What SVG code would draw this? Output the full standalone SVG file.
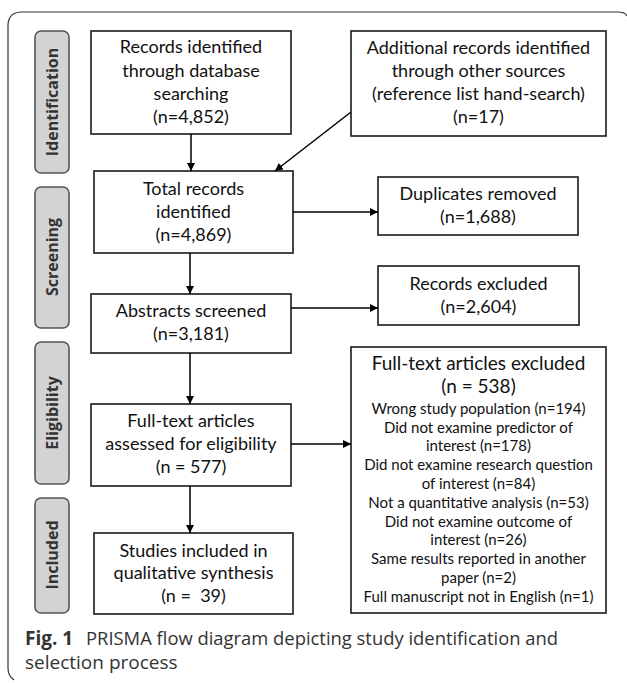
<svg xmlns="http://www.w3.org/2000/svg" width="627" height="683" viewBox="0 0 627 683">
<defs>
<marker id="ah" viewBox="0 0 10 10" refX="10" refY="5" markerWidth="8" markerHeight="8" markerUnits="userSpaceOnUse" orient="auto">
<path d="M0,0 L10,5 L0,10 z" fill="#000"/>
</marker>
<style>
.box{fill:#fff;stroke:#1a1a1a;stroke-width:1.6}
.side{fill:#d3d3d3;stroke:#555;stroke-width:1.6}
.t{font-family:Lato,"Liberation Sans",sans-serif;font-size:18px;fill:#111;text-anchor:middle}
.s{font-family:Lato,"Liberation Sans",sans-serif;font-size:15px;fill:#111;text-anchor:middle}
.lab{font-family:"Open Sans","Noto Sans",sans-serif;font-size:16px;font-weight:bold;fill:#333;text-anchor:middle}
.cap{font-family:"Open Sans","Noto Sans",sans-serif;font-size:19px;fill:#333}
.c{fill:none;stroke:#000;stroke-width:1.5}
</style>
</defs>
<rect width="627" height="683" fill="#fff"/>
<path d="M14,680 Q8,676 8,668 V26 Q8,12 22,12 H618 Q625,12 627,16" fill="none" stroke="#333" stroke-width="1.2"/>

<g id="label-identification"><rect class="side" x="35" y="31" width="34" height="142" rx="6"/><text class="lab" transform="translate(58,102) rotate(-90)">Identification</text></g>
<g id="label-screening"><rect class="side" x="35" y="187" width="34" height="141" rx="6"/><text class="lab" transform="translate(58,257) rotate(-90)">Screening</text></g>
<g id="label-eligibility"><rect class="side" x="35" y="342" width="34" height="142" rx="6"/><text class="lab" transform="translate(58,413) rotate(-90)">Eligibility</text></g>
<g id="label-included"><rect class="side" x="35" y="498" width="34" height="115" rx="6"/><text class="lab" transform="translate(58,555) rotate(-90)">Included</text></g>

<g id="n-database"><rect class="box" x="91" y="31" width="200" height="103"/>
<text class="t" x="191" y="53">Records identified</text><text class="t" x="191" y="77">through database</text><text class="t" x="191" y="100">searching</text><text class="t" x="191" y="123">(n=4,852)</text></g>
<g id="n-other"><rect class="box" x="351" y="31" width="255" height="105"/>
<text class="t" x="478.5" y="54">Additional records identified</text><text class="t" x="478.5" y="77">through other sources</text><text class="t" x="478.5" y="100">(reference  list hand-search)</text><text class="t" x="478.5" y="123">(n=17)</text></g>
<g id="n-total"><rect class="box" x="94" y="171" width="199" height="82"/>
<text class="t" x="193.5" y="195">Total records</text><text class="t" x="193.5" y="218">identified</text><text class="t" x="193.5" y="241">(n=4,869)</text></g>
<g id="n-dup"><rect class="box" x="378" y="177" width="200" height="58"/>
<text class="t" x="478" y="200">Duplicates removed</text><text class="t" x="478" y="223">(n=1,688)</text></g>
<g id="n-abstracts"><rect class="box" x="91" y="294" width="200" height="59"/>
<text class="t" x="191" y="317">Abstracts screened</text><text class="t" x="191" y="340">(n=3,181)</text></g>
<g id="n-recexcl"><rect class="box" x="378" y="266" width="201" height="59"/>
<text class="t" x="478.5" y="290">Records excluded</text><text class="t" x="478.5" y="313">(n=2,604)</text></g>
<g id="n-fulltext"><rect class="box" x="91" y="404" width="200" height="82"/>
<text class="t" x="191" y="427">Full-text articles</text><text class="t" x="191" y="450">assessed for eligibility</text><text class="t" x="191" y="473">(n = 577)</text></g>
<g id="n-included"><rect class="box" x="94" y="533" width="199" height="81"/>
<text class="t" x="193.5" y="557">Studies included in</text><text class="t" x="193.5" y="579">qualitative synthesis</text><text class="t" x="193.5" y="602" xml:space="preserve">(n =  39)</text></g>
<g id="n-ftexcl"><rect class="box" x="351" y="347" width="255" height="266"/>
<text class="t" x="478.5" y="370" style="font-size:19px">Full-text articles excluded</text>
<text class="t" x="478.5" y="393" style="font-size:19px">(n = 538)</text>
<text class="s" x="478.5" y="414">Wrong study population (n=194)</text>
<text class="s" x="478.5" y="433">Did not examine predictor of</text>
<text class="s" x="478.5" y="451">interest (n=178)</text>
<text class="s" x="478.5" y="470">Did not examine research question</text>
<text class="s" x="478.5" y="489">of interest (n=84)</text>
<text class="s" x="478.5" y="508">Not a quantitative analysis (n=53)</text>
<text class="s" x="478.5" y="527">Did not examine outcome of</text>
<text class="s" x="478.5" y="545">interest (n=26)</text>
<text class="s" x="478.5" y="564">Same results reported in another</text>
<text class="s" x="478.5" y="583">paper (n=2)</text>
<text class="s" x="478.5" y="602">Full manuscript not in English (n=1)</text></g>

<g id="connectors">
<line class="c" x1="191" y1="134" x2="191" y2="171" marker-end="url(#ah)"/>
<line class="c" x1="351" y1="112" x2="275" y2="171" marker-end="url(#ah)"/>
<line class="c" x1="293" y1="212" x2="378" y2="212" marker-end="url(#ah)"/>
<line class="c" x1="190" y1="253" x2="190" y2="294" marker-end="url(#ah)"/>
<line class="c" x1="291" y1="308" x2="378" y2="308" marker-end="url(#ah)"/>
<line class="c" x1="190" y1="353" x2="190" y2="404" marker-end="url(#ah)"/>
<line class="c" x1="291" y1="444" x2="351" y2="444" marker-end="url(#ah)"/>
<line class="c" x1="190" y1="486" x2="190" y2="533" marker-end="url(#ah)"/>
</g>

<text class="cap" x="25" y="645" font-weight="bold" fill="#111">Fig. 1</text>
<text class="cap" x="86" y="645" textLength="472" lengthAdjust="spacingAndGlyphs">PRISMA flow diagram depicting study identification and</text>
<text class="cap" x="25" y="669">selection process</text>
</svg>
